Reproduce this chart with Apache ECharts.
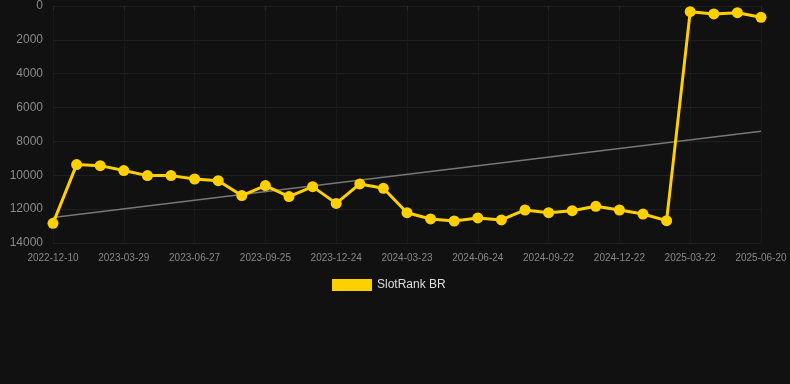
<!DOCTYPE html>
<html><head><meta charset="utf-8">
<script src="https://cdn.jsdelivr.net/npm/echarts@6/dist/echarts.min.js"></script>
<style>html,body{margin:0;padding:0;background:#111111;}#c{width:790px;height:384px;}</style>
</head><body><div id="c"></div>
<script>
const categories = ["2022-12-10","2023-01-28","2023-02-27","2023-03-29","2023-04-28","2023-05-28","2023-06-27","2023-07-27","2023-08-26","2023-09-25","2023-10-25","2023-11-24","2023-12-24","2024-01-23","2024-02-22","2024-03-23","2024-04-24","2024-05-25","2024-06-24","2024-07-24","2024-08-23","2024-09-22","2024-10-23","2024-11-22","2024-12-22","2025-01-21","2025-02-20","2025-03-22","2025-04-21","2025-05-21","2025-06-20"];
const rankValues = [12840,9370,9430,9720,10020,10020,10220,10320,11200,10610,11260,10670,11660,10510,10770,12210,12580,12700,12520,12640,12050,12210,12090,11830,12050,12290,12680,335,470,395,670];
const seriesName = "SlotRank BR";
const yTicks = [0,2000,4000,6000,8000,10000,12000,14000];

// linear regression trend
const n = rankValues.length;
let sx=0, sy=0, sxy=0, sxx=0;
rankValues.forEach((v,i)=>{sx+=i;sy+=v;sxy+=i*v;sxx+=i*i;});
const slope = (n*sxy - sx*sy)/(n*sxx - sx*sx);
const icpt = (sy - slope*sx)/n;
const trend = categories.map((c,i)=> (i===0||i===n-1) ? +(icpt+slope*i).toFixed(1) : null);

const chart = echarts.init(document.getElementById('c'));
chart.setOption({
  backgroundColor:'#111111',
  animation:false,
  textStyle:{fontFamily:'Liberation Sans, Arial, sans-serif'},
  grid:{left:53,right:29,top:6,bottom:141},
  legend:{
    data:[seriesName],
    top:274, left:327,
    itemWidth:40,itemHeight:12,itemGap:10,
    icon:'rect',
    textStyle:{color:'#dddddd',fontSize:12}
  },
  xAxis:{
    type:'category',
    data:categories,
    boundaryGap:false,
    axisLine:{show:false},
    axisTick:{show:true,interval:2,length:4,lineStyle:{color:'#2a2a2a'}},
    axisLabel:{interval:2,color:'#888888',fontSize:10,margin:10},
    splitLine:{show:true,interval:2,lineStyle:{color:'#1a1a1a'}}
  },
  yAxis:{
    type:'value',
    inverse:true,
    min:yTicks[0],max:yTicks[yTicks.length-1],interval:2000,
    axisLine:{show:false},axisTick:{show:false},
    axisLabel:{color:'#8a8a8a',fontSize:12,margin:10,formatter:v=>String(v)},
    splitLine:{lineStyle:{color:'#1f1f1f'}}
  },
  series:[
    {
      name:seriesName,type:'line',data:rankValues,
      symbol:'circle',symbolSize:11,
      lineStyle:{color:'#ffd000',width:3},
      itemStyle:{color:'#ffd000'},
      z:3
    },
    {
      name:'trend',type:'line',data:trend,connectNulls:true,
      symbol:'none',
      lineStyle:{color:'#777777',width:1.5},
      z:2
    }
  ]
});
</script></body></html>
